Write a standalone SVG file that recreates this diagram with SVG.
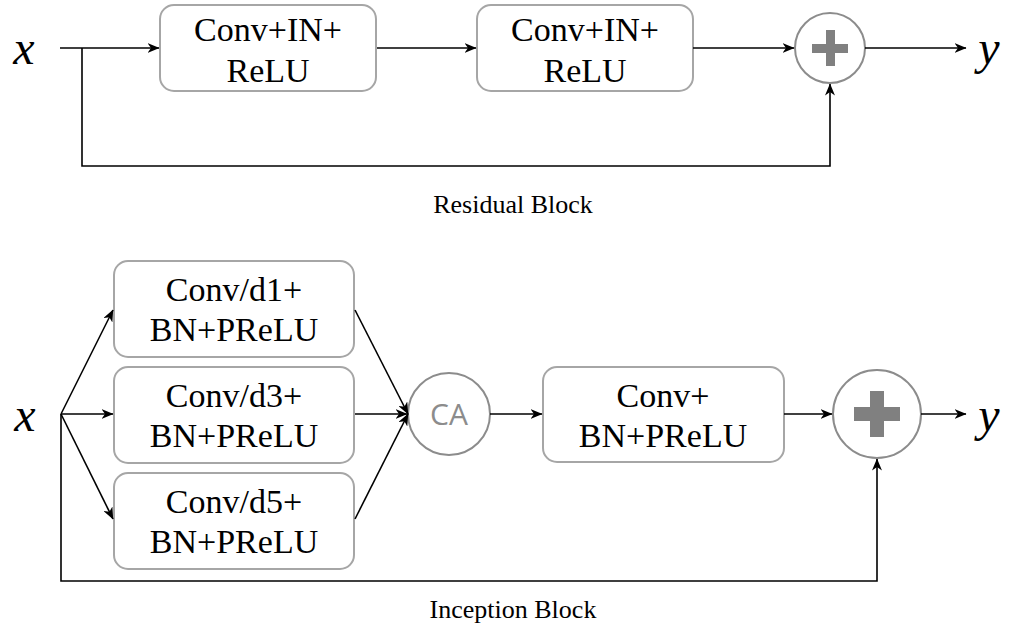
<svg xmlns="http://www.w3.org/2000/svg" width="1019" height="633" viewBox="0 0 1019 633">
  <style>
    .box { fill: #ffffff; stroke: #a6a6a6; stroke-width: 2; }
    .node-circle { fill: #ffffff; stroke: #8c8c8c; stroke-width: 2; }
    .lbl { font-family: "Liberation Serif", "Times New Roman", Times, Tinos, "DejaVu Serif", serif; font-size: 34px; fill: #000000; text-anchor: middle; }
    .var { font-family: "Liberation Serif", "Times New Roman", Times, Tinos, "DejaVu Serif", serif; font-style: italic; font-size: 48px; fill: #000000; text-anchor: middle; }
    .cap { font-family: "Liberation Serif", "Times New Roman", Times, Tinos, "DejaVu Serif", serif; font-size: 26px; fill: #000000; text-anchor: middle; }
    .ca { font-family: "Open Sans", "Liberation Sans", sans-serif; font-size: 30px; fill: #8c8c8c; text-anchor: middle; }
    .plus { fill: #808080; }
    .wire { fill: none; stroke: #000000; stroke-width: 1.6; }
    .arrow { marker-end: url(#head); }
  </style>
  <defs>
    <marker id="head" viewBox="0 0 12 10" refX="11.5" refY="5" markerWidth="12" markerHeight="10" markerUnits="userSpaceOnUse" orient="auto">
      <path d="M0,0 L12,5 L0,10 L3.5,5 z" fill="#000000"/>
    </marker>
  </defs>

  <rect width="1019" height="633" fill="#ffffff"/>

  <!-- Residual block -->
  <g id="res-x"><text class="var" x="24" y="64">x</text></g>
  <g id="res-conv1">
    <rect class="box" x="160" y="5" width="216" height="86" rx="14"/>
    <text class="lbl" x="268" y="41">Conv+IN+</text>
    <text class="lbl" x="268" y="82">ReLU</text>
  </g>
  <g id="res-conv2">
    <rect class="box" x="477" y="5" width="216" height="86" rx="14"/>
    <text class="lbl" x="585" y="41">Conv+IN+</text>
    <text class="lbl" x="585" y="82">ReLU</text>
  </g>
  <g id="res-add">
    <circle class="node-circle" cx="830" cy="48" r="35"/>
    <rect class="plus" x="812" y="44" width="36" height="9"/>
    <rect class="plus" x="826" y="30" width="9" height="36"/>
  </g>
  <g id="res-y"><text class="var" x="989" y="64">y</text></g>
  <g id="res-caption"><text class="cap" x="513" y="213">Residual Block</text></g>

  <!-- Inception block -->
  <g id="inc-x"><text class="var" x="25" y="431">x</text></g>
  <g id="inc-d1">
    <rect class="box" x="114" y="261" width="240" height="96" rx="14"/>
    <text class="lbl" x="234" y="301">Conv/d1+</text>
    <text class="lbl" x="234" y="341">BN+PReLU</text>
  </g>
  <g id="inc-d3">
    <rect class="box" x="114" y="367" width="240" height="96" rx="14"/>
    <text class="lbl" x="234" y="407">Conv/d3+</text>
    <text class="lbl" x="234" y="447">BN+PReLU</text>
  </g>
  <g id="inc-d5">
    <rect class="box" x="114" y="473" width="240" height="96" rx="14"/>
    <text class="lbl" x="234" y="513">Conv/d5+</text>
    <text class="lbl" x="234" y="553">BN+PReLU</text>
  </g>
  <g id="inc-ca">
    <circle class="node-circle" cx="449" cy="414" r="41"/>
    <text class="ca" x="449" y="425">CA</text>
  </g>
  <g id="inc-conv">
    <rect class="box" x="543" y="367" width="241" height="95" rx="14"/>
    <text class="lbl" x="663" y="407">Conv+</text>
    <text class="lbl" x="663" y="447">BN+PReLU</text>
  </g>
  <g id="inc-add">
    <circle class="node-circle" cx="877" cy="414" r="44"/>
    <rect class="plus" x="854" y="407" width="46" height="14"/>
    <rect class="plus" x="870" y="391" width="14" height="46"/>
  </g>
  <g id="inc-y"><text class="var" x="989" y="431">y</text></g>
  <g id="inc-caption"><text class="cap" x="513" y="618">Inception Block</text></g>

  <!-- connectors -->
  <g id="connectors">
    <!-- residual block -->
    <path class="wire arrow" d="M60,48 H159"/>
    <path class="wire arrow" d="M377,48 H476"/>
    <path class="wire arrow" d="M693,48 H794"/>
    <path class="wire arrow" d="M865,48 H966"/>
    <path class="wire arrow" d="M82,48 V166 H830 V84"/>

    <!-- inception block -->
    <path class="wire arrow" d="M61,414 L113,310"/>
    <path class="wire arrow" d="M61,414 H113"/>
    <path class="wire arrow" d="M61,414 L113,519"/>
    <path class="wire arrow" d="M355,310 L408,414"/>
    <path class="wire arrow" d="M355,414 H407"/>
    <path class="wire arrow" d="M355,519 L408,414"/>
    <path class="wire arrow" d="M490,414 H542"/>
    <path class="wire arrow" d="M784,414 H832"/>
    <path class="wire arrow" d="M921,414 H966"/>
    <path class="wire arrow" d="M61,414 V581 H877 V459"/>
  </g>
</svg>
